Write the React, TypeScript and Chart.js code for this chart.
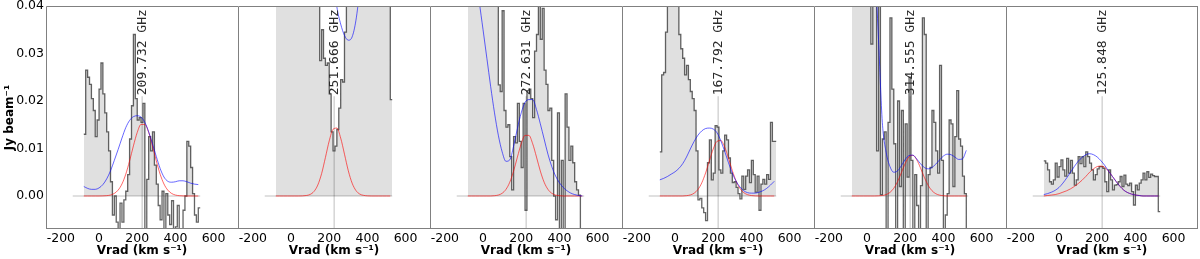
import React, { useEffect, useRef } from 'react';
import { Chart, registerables } from 'chart.js';

Chart.register(...registerables);

// ---------------- axes / layout constants ----------------
const X_MIN = -278;
const X_MAX = 728;
const Y_MIN = -0.00695;
const Y_MAX = 0.04;
const X_TICKS = [-200, 0, 200, 400, 600];
const Y_TICKS = [0.0, 0.01, 0.02, 0.03, 0.04];
const X_TITLE = 'Vrad (km s⁻¹)';
const Y_TITLE = 'Jy beam⁻¹';

const BIN_START = -80; // left edge of first channel (km/s)
const BIN_WIDTH = 10; // channel width (km/s)
const CURVE_START = -80;
const CURVE_STEP = 20;
const LINE_VELOCITY = 226; // systemic velocity marker
const LABEL_VALUE = 0.021; // where the rotated label starts
const ZERO_LINE_X = [-138, 530];

const LINE_LABELS = ['209.732 GHz', '251.666 GHz', '272.631 GHz', '167.792 GHz', '314.555 GHz', '125.848 GHz'];

// ---------------- spectra (channel values, Jy/beam) ----------------
const HIST_1 = [0.013, 0.0265, 0.025, 0.0235, 0.0205, 0.018, 0.0125, 0.016, 0.0225, 0.028, 0.0215, 0.0175, 0.0135, 0.0095, 0.003, -0.004, 0.0, -0.0055, -0.009, -0.0015, -0.0055, -0.0008, 0.001, 0.0045, 0.012, 0.019, 0.034, 0.0205, 0.016, 0.0165, 0.0155, 0.0195, -0.008, 0.0035, 0.0125, 0.0095, 0.0135, 0.0065, 0.0025, -0.002, -0.005, 0.001, -0.0075, 0.0005, -0.004, -0.006, -0.001, -0.008, -0.0065, -0.002, -0.009, -0.007, -0.003, 0.0, 0.0115, 0.0105, 0.006, 0.0005, -0.004, -0.0055, -0.0025];
const HIST_2 = [0.05, 0.05, 0.05, 0.05, 0.05, 0.05, 0.05, 0.05, 0.05, 0.05, 0.05, 0.05, 0.05, 0.05, 0.05, 0.05, 0.05, 0.05, 0.05, 0.05, 0.05, 0.05, 0.05, 0.0285, 0.035, 0.029, 0.0275, 0.028, 0.0215, 0.0135, 0.0095, 0.0105, 0.014, 0.0185, 0.0245, 0.024, 0.0345, 0.05, 0.05, 0.05, 0.05, 0.05, 0.05, 0.05, 0.05, 0.05, 0.05, 0.05, 0.05, 0.05, 0.05, 0.05, 0.05, 0.05, 0.05, 0.05, 0.05, 0.05, 0.05, 0.05, 0.0203];
const HIST_3 = [0.05, 0.05, 0.05, 0.05, 0.05, 0.05, 0.05, 0.05, 0.05, 0.05, 0.05, 0.05, 0.05, 0.05, 0.05, 0.05, 0.0234, 0.022, 0.039, 0.018, 0.0145, 0.015, 0.0083, 0.0013, 0.0125, 0.0112, 0.0195, 0.0115, 0.006, 0.0195, -0.003, 0.0222, 0.0225, 0.0205, 0.0165, 0.0305, 0.034, 0.048, 0.033, 0.0395, 0.0265, 0.0235, 0.018, 0.0185, 0.0075, 0.0, -0.005, 0.0175, -0.008, 0.0075, -0.008, 0.0215, 0.0145, 0.0075, 0.0105, 0.007, 0.003, 0.0013, 0.0002, -0.0075, -0.0075];
const HIST_4 = [0.0093, 0.0255, 0.026, 0.0345, 0.045, 0.05, 0.05, 0.05, 0.05, 0.045, 0.034, 0.031, 0.029, 0.0255, 0.0275, 0.0245, 0.022, 0.0205, 0.018, 0.0095, -0.0008, -0.0005, -0.0025, -0.0035, -0.0052, 0.007, 0.0118, 0.0034, 0.0048, 0.0148, 0.0145, 0.0055, 0.0048, 0.0095, 0.0128, 0.0118, 0.008, 0.0048, 0.0028, 0.003, 0.0018, 0.0005, -0.0006, 0.0042, 0.0014, 0.0042, 0.0055, 0.0028, 0.0075, 0.0045, 0.0008, 0.0042, -0.003, 0.0025, 0.0035, 0.0025, 0.0045, 0.0035, 0.0155, 0.0115, 0.0115];
const HIST_5 = [0.05, 0.05, 0.05, 0.05, 0.05, 0.05, 0.05, 0.05, 0.05, 0.05, 0.032, 0.05, 0.05, 0.0095, 0.05, 0.0003, 0.012, 0.0135, -0.007, 0.0155, 0.0375, 0.0225, 0.011, -0.008, 0.02, 0.002, 0.018, -0.008, 0.0152, 0.004, 0.025, 0.0075, -0.008, 0.0045, -0.002, -0.008, 0.0022, 0.0375, 0.034, -0.008, 0.0045, 0.006, 0.018, 0.0155, 0.0095, 0.0048, 0.0275, 0.0075, -0.008, -0.004, 0.0005, 0.016, 0.0152, 0.002, 0.0125, 0.0222, 0.012, 0.0105, 0.0042, 0.0005, -0.008];
const HIST_6 = [0.0074, 0.0069, 0.0055, 0.003, 0.0025, 0.0034, 0.0069, 0.004, 0.0062, 0.0076, 0.0055, 0.0042, 0.0079, 0.0048, 0.0075, 0.0048, 0.0023, 0.0034, 0.0083, 0.0068, 0.0083, 0.0062, 0.0093, 0.0083, 0.0069, 0.0055, 0.0034, 0.0045, 0.0057, 0.0062, 0.0062, 0.0058, 0.003, 0.0009, 0.0055, 0.0034, 0.0013, 0.0023, 0.0024, 0.003, 0.0041, 0.002, 0.0044, 0.0025, 0.0022, 0.0027, 0.0009, -0.0019, 0.0023, 0.0013, 0.0027, 0.0034, 0.0048, 0.0034, 0.0051, 0.0039, 0.0046, 0.0043, 0.0041, 0.0041, -0.0033];

// ---------------- fitted models (sampled every 20 km/s from -80) ----------------
const RED_1 = [0, 0, 0, 0, 0, 0.00002, 0.00007, 0.0002, 0.00054, 0.00124, 0.00253, 0.00459, 0.00739, 0.01055, 0.01338, 0.01507, 0.01507, 0.01338, 0.01055, 0.00739, 0.00459, 0.00253, 0.00124, 0.00054, 0.0002, 0.00007, 0.00002, 0, 0, 0, 0];
const BLUE_1 = [0.002, 0.0016, 0.0014, 0.0014, 0.0017, 0.0024, 0.0036, 0.0053, 0.0075, 0.0098, 0.0122, 0.0144, 0.0159, 0.0167, 0.0169, 0.0166, 0.0155, 0.0135, 0.011, 0.0083, 0.0058, 0.004, 0.0031, 0.0029, 0.003, 0.0032, 0.0032, 0.003, 0.0027, 0.0025, 0.0024];
const RED_2 = [0, 0, 0, 0, 0, 0, 0, 0.00002, 0.0001, 0.00033, 0.00095, 0.0023, 0.0047, 0.0081, 0.0116, 0.01405, 0.0143, 0.0122, 0.0088, 0.0053, 0.0027, 0.00115, 0.0004, 0.00013, 0.00003, 0, 0, 0, 0, 0, 0];
const BLUE_2 = [0.06, 0.06, 0.06, 0.06, 0.06, 0.06, 0.06, 0.06, 0.06, 0.06, 0.06, 0.06, 0.06, 0.06, 0.06, 0.046, 0.0398, 0.0362, 0.0338, 0.0328, 0.0335, 0.037, 0.0435, 0.052, 0.06, 0.06, 0.06, 0.06, 0.06, 0.06, 0.06];
const RED_3 = [0, 0, 0, 0, 0, 0, 0, 0.00006, 0.0002, 0.00057, 0.00139, 0.0029, 0.00525, 0.0082, 0.011, 0.01276, 0.01276, 0.011, 0.0082, 0.00525, 0.0029, 0.00139, 0.00057, 0.0002, 0.00006, 0, 0, 0, 0, 0, 0];
const BLUE_3 = [0.07, 0.058, 0.048, 0.041, 0.035, 0.029, 0.023, 0.0175, 0.0128, 0.0093, 0.0073, 0.0076, 0.0105, 0.0142, 0.0175, 0.0197, 0.0203, 0.0203, 0.0182, 0.0152, 0.012, 0.0088, 0.0062, 0.0042, 0.0028, 0.0018, 0.0011, 0.0006, 0.0003, 0.0001, 0];
const RED_4 = [0, 0, 0, 0, 0, 0, 0, 0.00007, 0.00022, 0.00059, 0.00137, 0.00276, 0.00485, 0.00742, 0.0099, 0.01151, 0.01167, 0.01031, 0.00795, 0.00534, 0.00313, 0.0016, 0.00071, 0.00028, 0.00009, 0.00002, 0, 0, 0, 0, 0];
const BLUE_4 = [0.0034, 0.0037, 0.0041, 0.0046, 0.0051, 0.0058, 0.0068, 0.0082, 0.0099, 0.0115, 0.0128, 0.0137, 0.0142, 0.0143, 0.0141, 0.0133, 0.0116, 0.0094, 0.007, 0.0048, 0.0031, 0.0019, 0.0011, 0.0007, 0.0006, 0.0006, 0.0008, 0.0011, 0.0016, 0.0023, 0.0031];
const RED_5 = [0, 0, 0, 0, 0, 0, 0, 0.00003, 0.0001, 0.0003, 0.00075, 0.00162, 0.00304, 0.00492, 0.00686, 0.00825, 0.00856, 0.00766, 0.00591, 0.00394, 0.00226, 0.00112, 0.00048, 0.00018, 0.00006, 0, 0, 0, 0, 0, 0];
const BLUE_5 = [0.2, 0.16, 0.13, 0.105, 0.085, 0.065, 0.05, 0.033, 0.0155, 0.0092, 0.0062, 0.005, 0.0053, 0.0064, 0.0077, 0.0085, 0.0086, 0.0078, 0.0068, 0.006, 0.0057, 0.006, 0.0067, 0.0076, 0.0084, 0.0088, 0.0087, 0.0082, 0.0077, 0.0078, 0.0096];
const RED_6 = [0, 0.0001, 0.0002, 0.0003, 0.0005, 0.0008, 0.0011, 0.0015, 0.002, 0.0026, 0.0033, 0.0041, 0.005, 0.0057, 0.0062, 0.0063, 0.006, 0.0052, 0.0041, 0.003, 0.002, 0.0012, 0.0007, 0.0004, 0.0002, 0.0001, 0, 0, 0, 0, 0];
const BLUE_6 = [0.0003, 0.0005, 0.0008, 0.0012, 0.0018, 0.0027, 0.0038, 0.005, 0.0062, 0.0073, 0.0081, 0.0087, 0.0089, 0.0087, 0.0082, 0.0074, 0.0064, 0.0052, 0.0041, 0.003, 0.002, 0.0012, 0.0007, 0.0004, 0.0002, 0.0001, 0, 0, 0, 0, 0];

const HISTS = [HIST_1, HIST_2, HIST_3, HIST_4, HIST_5, HIST_6];
const REDS = [RED_1, RED_2, RED_3, RED_4, RED_5, RED_6];
const BLUES = [BLUE_1, BLUE_2, BLUE_3, BLUE_4, BLUE_5, BLUE_6];

// ---------------- styling ----------------
const FONT = 'DejaVu Sans';
const FILL_COLOR = '#e0e0e0';
const HIST_LINE = 'rgba(40,40,40,0.72)';
const RED = 'rgba(255,0,0,0.6)';
const BLUE = 'rgba(0,0,255,0.6)';
const GUIDE = 'rgba(0,0,0,0.12)';
const VLINE = 'rgba(0,0,0,0.17)';
const SPINE = '#808080';

const Y_AXIS_WIDTH = 46;
const PANEL_WIDTH = 192;
const HEIGHT = 259;
const TOP_PAD = 6;
const X_AXIS_HEIGHT = 30;

function histPoints(values: number[]) {
  const pts = values.map((y, i) => ({ x: BIN_START + i * BIN_WIDTH, y }));
  pts.push({ x: BIN_START + values.length * BIN_WIDTH, y: values[values.length - 1] });
  return pts;
}

function curvePoints(values: number[]) {
  return values.map((y, i) => ({ x: CURVE_START + i * CURVE_STEP, y }));
}

function Panel({ index }: { index: number }) {
  const ref = useRef<HTMLCanvasElement | null>(null);
  const first = index === 0;
  const last = index === HISTS.length - 1;
  const width = first ? Y_AXIS_WIDTH + PANEL_WIDTH : PANEL_WIDTH;
  const left = first ? 0 : Y_AXIS_WIDTH + PANEL_WIDTH * index;

  useEffect(() => {
    if (!ref.current) return;
    const hist = histPoints(HISTS[index]);
    const label = LINE_LABELS[index];

    const framePlugin = {
      id: 'frame' + index,
      afterDatasetsDraw(chart: any) {
        const { ctx } = chart;
        const xs = chart.scales.x;
        const ys = chart.scales.y;
        const px = xs.getPixelForValue(LINE_VELOCITY);
        const py = ys.getPixelForValue(LABEL_VALUE);
        ctx.save();
        ctx.translate(px, py);
        ctx.rotate(-Math.PI / 2);
        ctx.font = '13px "DejaVu Sans Mono"';
        ctx.fillStyle = '#2a2a2a';
        ctx.textAlign = 'left';
        ctx.textBaseline = 'middle';
        ctx.fillText(label, 1, 0);
        ctx.restore();
      },
      afterDraw(chart: any) {
        const { ctx, chartArea: a } = chart;
        ctx.save();
        ctx.strokeStyle = SPINE;
        ctx.lineWidth = 1;
        ctx.beginPath();
        ctx.moveTo(a.left + 0.5, a.bottom - 0.5);
        ctx.lineTo(a.left + 0.5, a.top + 0.5);
        ctx.lineTo(a.right, a.top + 0.5);
        ctx.moveTo(a.left, a.bottom - 0.5);
        ctx.lineTo(a.right, a.bottom - 0.5);
        if (last) {
          ctx.moveTo(a.right - 0.5, a.top);
          ctx.lineTo(a.right - 0.5, a.bottom);
        }
        ctx.stroke();
        ctx.restore();
      },
    };

    const chart = new Chart(ref.current, {
      type: 'line',
      data: {
        datasets: [
          {
            label: 'model',
            data: curvePoints(BLUES[index]),
            borderColor: BLUE,
            borderWidth: 1,
            pointRadius: 0,
            cubicInterpolationMode: 'monotone',
            fill: false,
          },
          {
            label: 'line',
            data: curvePoints(REDS[index]),
            borderColor: RED,
            borderWidth: 1,
            pointRadius: 0,
            cubicInterpolationMode: 'monotone',
            fill: false,
          },
          {
            label: 'spectrum',
            data: hist,
            borderColor: HIST_LINE,
            borderWidth: 1.3,
            pointRadius: 0,
            stepped: 'before',
            fill: false,
          },
          {
            label: 'vsys',
            data: [
              { x: LINE_VELOCITY, y: -0.01 },
              { x: LINE_VELOCITY, y: LABEL_VALUE },
            ],
            borderColor: VLINE,
            borderWidth: 1.5,
            pointRadius: 0,
            fill: false,
          },
          {
            label: 'zero',
            data: [
              { x: ZERO_LINE_X[0], y: 0 },
              { x: ZERO_LINE_X[1], y: 0 },
            ],
            borderColor: GUIDE,
            borderWidth: 2,
            pointRadius: 0,
            fill: false,
          },
          {
            label: 'spectrum fill',
            data: hist,
            borderColor: 'rgba(0,0,0,0)',
            borderWidth: 0,
            pointRadius: 0,
            stepped: 'before',
            fill: { target: 'origin', above: FILL_COLOR, below: 'rgba(0,0,0,0)' },
          },
        ],
      },
      options: {
        animation: false,
        responsive: false,
        events: [],
        layout: { padding: { top: TOP_PAD, left: 0, right: 0, bottom: 0 }, autoPadding: false },
        plugins: { legend: { display: false }, tooltip: { enabled: false }, title: { display: false } },
        scales: {
          x: {
            type: 'linear',
            position: 'bottom',
            min: X_MIN,
            max: X_MAX,
            grid: { display: false, drawTicks: false },
            border: { display: false },
            afterBuildTicks: (s: any) => {
              s.ticks = X_TICKS.map((v) => ({ value: v }));
            },
            ticks: {
              autoSkip: false,
              maxRotation: 0,
              minRotation: 0,
              padding: 2,
              color: '#000',
              font: { family: FONT, size: 12.5 },
              callback: (v: any) => String(v),
            },
            title: {
              display: true,
              text: X_TITLE,
              color: '#000',
              font: { family: FONT, size: 12, weight: 'bold' },
              padding: { top: 0, bottom: 1 },
            },
            afterFit: (s: any) => {
              s.height = X_AXIS_HEIGHT;
              s.paddingLeft = 0;
              s.paddingRight = 0;
            },
          },
          y: {
            type: 'linear',
            position: 'left',
            display: first,
            min: Y_MIN,
            max: Y_MAX,
            grid: { display: false, drawTicks: false },
            border: { display: false },
            afterBuildTicks: (s: any) => {
              s.ticks = Y_TICKS.map((v) => ({ value: v }));
            },
            ticks: {
              autoSkip: false,
              padding: 2,
              color: '#000',
              font: { family: FONT, size: 12.5 },
              callback: (v: any) => Number(v).toFixed(2),
            },
            title: {
              display: true,
              text: Y_TITLE,
              color: '#000',
              font: { family: FONT, size: 12, weight: 'bold' },
              padding: { top: 3, bottom: 0 },
            },
            afterFit: (s: any) => {
              s.width = first ? Y_AXIS_WIDTH : 0;
              s.paddingTop = 0;
              s.paddingBottom = 0;
            },
          },
        },
      } as any,
      plugins: [framePlugin],
    });
    return () => chart.destroy();
  }, [index]);

  return (
    <canvas
      ref={ref}
      width={width}
      height={HEIGHT}
      style={{ position: 'absolute', left, top: 0, width, height: HEIGHT, display: 'block' }}
    />
  );
}

export default function App() {
  return (
    <div style={{ position: 'absolute', left: 0, top: 0, width: 1200, height: HEIGHT, background: '#fff', overflow: 'hidden' }}>
      {HISTS.map((_, k) => (
        <Panel key={k} index={k} />
      ))}
    </div>
  );
}
